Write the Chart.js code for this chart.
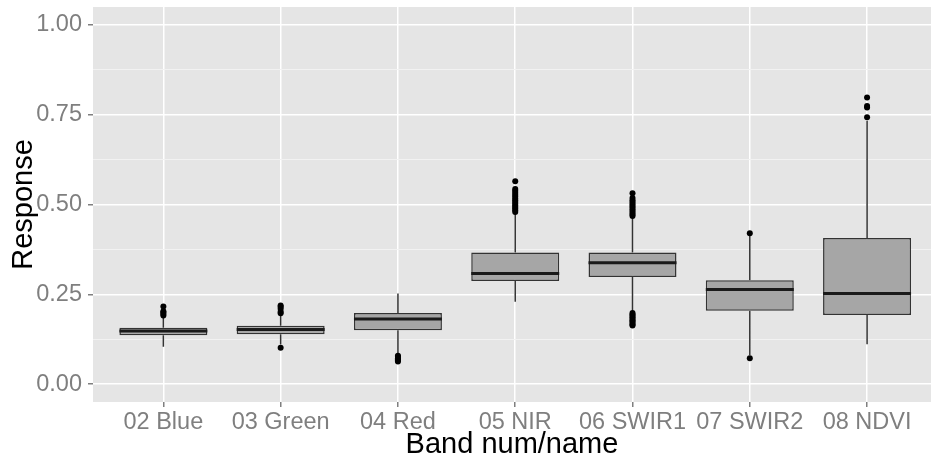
<!DOCTYPE html>
<html>
<head>
<meta charset="utf-8">
<script src="https://cdn.jsdelivr.net/npm/chart.js@4"></script>
<style>
  html, body { margin: 0; padding: 0; background: #ffffff; }
  #wrap { width: 931px; height: 462px; }
</style>
</head>
<body>
<div id="wrap"><canvas id="bands" width="931" height="462"></canvas></div>
<script>
// Band responses, one box per band
const categories = ['02 Blue', '03 Green', '04 Red', '05 NIR', '06 SWIR1', '07 SWIR2', '08 NDVI'];
const whiskerLow  = [0.104, 0.110, 0.085, 0.229, 0.203, 0.080, 0.111];
const lowerQuart  = [0.136, 0.139, 0.150, 0.287, 0.298, 0.204, 0.192];
const medians     = [0.148, 0.152, 0.181, 0.308, 0.338, 0.263, 0.252];
const upperQuart  = [0.157, 0.162, 0.198, 0.366, 0.366, 0.289, 0.407];
const whiskerHigh = [0.186, 0.190, 0.252, 0.476, 0.463, 0.412, 0.733];
const outliers = [
    [0.191, 0.195, 0.199, 0.203, 0.216],
    [0.101, 0.197, 0.201, 0.210, 0.215, 0.219],
    [0.079, 0.076, 0.072, 0.069, 0.066, 0.063],
    [0.479, 0.484, 0.489, 0.493, 0.497, 0.502, 0.507, 0.512, 0.517, 0.522, 0.527, 0.533, 0.538, 0.543, 0.565],
    [0.468, 0.472, 0.477, 0.482, 0.487, 0.492, 0.497, 0.502, 0.507, 0.512, 0.518, 0.531,
     0.198, 0.194, 0.190, 0.186, 0.182, 0.178, 0.174, 0.170, 0.166, 0.163],
    [0.420, 0.072],
    [0.743, 0.770, 0.774, 0.798]
];
const yMajorTicks = [0, 0.25, 0.5, 0.75, 1.0];
const yMinorTicks = [0.125, 0.375, 0.625, 0.875];

const boxWidth = 0.75;   // in category units
const font = "'Liberation Sans', Arial, sans-serif";
const ink = '#333333';

// whisker segments, broken by null so each band gets two pieces
const whiskerPoints = [];
const medianPoints = [];
const outlierPoints = [];
categories.forEach((c, i) => {
    const x = i + 1;
    whiskerPoints.push({ x: x, y: whiskerLow[i] }, { x: x, y: lowerQuart[i] }, { x: x, y: null });
    whiskerPoints.push({ x: x, y: upperQuart[i] }, { x: x, y: whiskerHigh[i] }, { x: x, y: null });
    medianPoints.push({ x: x - boxWidth / 2, y: medians[i] }, { x: x + boxWidth / 2, y: medians[i] }, { x: x, y: null });
    outliers[i].forEach(v => outlierPoints.push({ x: x, y: v }));
});
const boxes = categories.map((c, i) => ({ x: i + 1, y: [lowerQuart[i], upperQuart[i]] }));

// grey panel behind the grid
const panelBg = {
    id: 'panelBg',
    beforeDraw(chart) {
        const a = chart.chartArea;
        const ctx = chart.ctx;
        ctx.save();
        ctx.fillStyle = '#E5E5E5';
        ctx.fillRect(a.left, a.top, a.right - a.left, a.bottom - a.top);
        ctx.restore();
    }
};

// keep the panel edges where the axes put them, no extra room for end labels
const noEdgePadding = scale => {
    scale.paddingTop = 0;
    scale.paddingBottom = 0;
    scale.paddingLeft = 0;
    scale.paddingRight = 0;
};

new Chart(document.getElementById('bands'), {
    type: 'bar',
    data: {
        datasets: [
            {
                type: 'line',
                data: whiskerPoints,
                borderColor: ink,
                borderWidth: 1.5,
                pointRadius: 0,
                spanGaps: false,
                order: 4
            },
            {
                type: 'bar',
                data: boxes,
                backgroundColor: '#A6A6A6',
                borderColor: ink,
                borderWidth: 1.5,
                borderSkipped: false,
                barPercentage: boxWidth,
                categoryPercentage: 1,
                order: 3
            },
            {
                type: 'line',
                data: medianPoints,
                borderColor: '#1A1A1A',
                borderWidth: 3,
                pointRadius: 0,
                spanGaps: false,
                order: 2
            },
            {
                type: 'scatter',
                data: outlierPoints,
                pointRadius: 3,
                pointBackgroundColor: '#000000',
                pointBorderWidth: 0,
                order: 1
            }
        ]
    },
    options: {
        responsive: false,
        animation: false,
        layout: { autoPadding: false, padding: { top: 7, right: 0, left: 0, bottom: 0 } },
        plugins: { legend: { display: false }, tooltip: { enabled: false } },
        scales: {
            x: {
                type: 'linear',
                min: 0.4,
                max: 7.545,
                offset: false,
                afterBuildTicks: scale => {
                    scale.ticks = categories.map((c, i) => ({ value: i + 1 }));
                },
                afterFit: scale => { scale.height = 60; noEdgePadding(scale); },
                ticks: {
                    autoSkip: false,
                    maxRotation: 0,
                    padding: 1,
                    color: '#7F7F7F',
                    font: { family: font, size: 23.5 },
                    callback: v => categories[v - 1]
                },
                grid: {
                    offset: false,
                    color: '#FFFFFF',
                    lineWidth: 1.5,
                    tickColor: '#7F7F7F',
                    tickLength: 5
                },
                border: { display: false },
                title: {
                    display: true,
                    text: 'Band num/name',
                    color: '#000000',
                    font: { family: font, size: 29 },
                    padding: { top: 0, bottom: 0 }
                }
            },
            y: {
                min: -0.05,
                max: 1.05,
                afterBuildTicks: scale => {
                    scale.ticks = yMajorTicks.concat(yMinorTicks).sort((a, b) => a - b).map(v => ({ value: v }));
                },
                afterFit: scale => { scale.width = 93; noEdgePadding(scale); },
                ticks: {
                    padding: 6,
                    color: '#7F7F7F',
                    font: { family: font, size: 23.5 },
                    callback: v => yMajorTicks.includes(v) ? v.toFixed(2) : ''
                },
                grid: {
                    color: ctx => yMajorTicks.includes(ctx.tick.value) ? '#FFFFFF' : '#F2F2F2',
                    lineWidth: ctx => yMajorTicks.includes(ctx.tick.value) ? 1.5 : 1,
                    tickColor: ctx => yMajorTicks.includes(ctx.tick.value) ? '#7F7F7F' : 'rgba(0,0,0,0)',
                    tickLength: 5
                },
                border: { display: false },
                title: {
                    display: true,
                    text: 'Response',
                    color: '#000000',
                    font: { family: font, size: 29 },
                    padding: { top: 7, bottom: 0 }
                }
            }
        }
    },
    plugins: [panelBg]
});
</script>
</body>
</html>
